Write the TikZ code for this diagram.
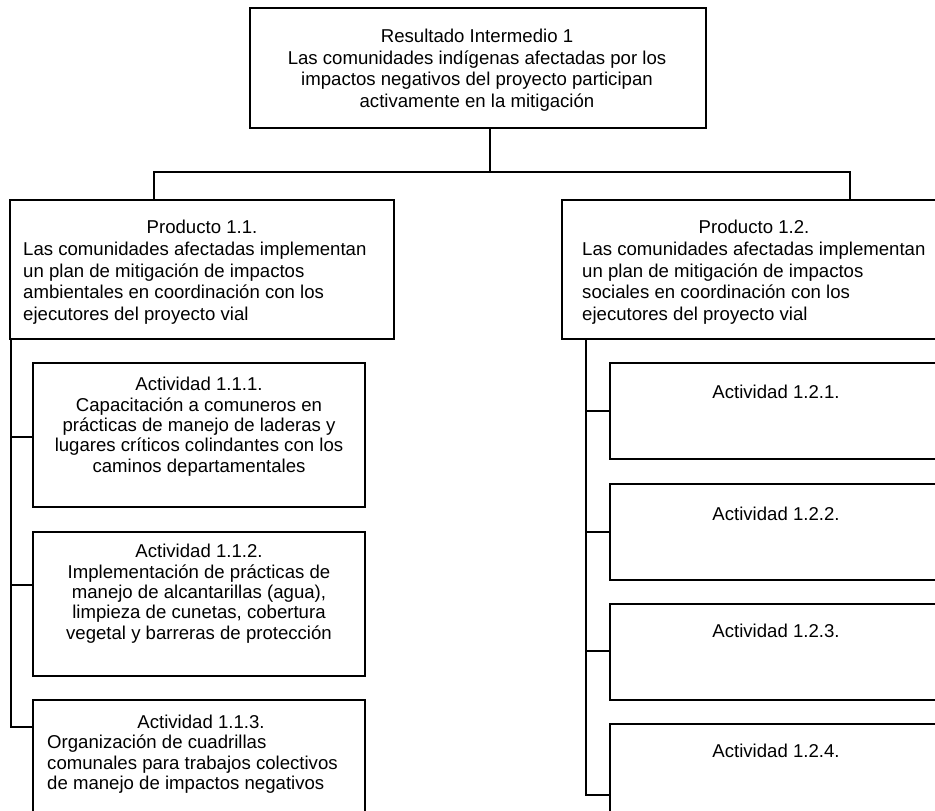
\documentclass[tikz,border=0pt]{standalone}
\usepackage{fontspec}
\setmainfont{Liberation Sans}
\newcommand\fontPrd{\fontsize{18.6}{21.6}\selectfont}
\newcommand\fontAct{\fontsize{18.6}{20.4}\selectfont}
\begin{document}
\begin{tikzpicture}[x=1pt,y=-1pt,
  box/.style={draw, line width=1.5pt, inner sep=0, rectangle},
  wire/.style={line width=1.5pt},
  txt/.style={inner sep=0, anchor=north, align=center, font=\fontPrd},
  txtl/.style={txt, anchor=north west, align=left},
  acttxt/.style={txt, font=\fontAct},
  acttxtl/.style={txtl, font=\fontAct}]
\useasboundingbox (0,0) rectangle (935,811);
\clip (0,0) rectangle (935,811);

% boxes
\node[box, minimum width=456pt, minimum height=120pt] (top) at (478,68) {};
\node[box, minimum width=384pt, minimum height=139pt] (p11) at (202,269.5) {};
\node[box, minimum width=384pt, minimum height=139pt] (p12) at (754,269.5) {};
\node[box, minimum width=332pt, minimum height=144pt] (a111) at (199,435) {};
\node[box, minimum width=332pt, minimum height=144pt] (a112) at (199,604) {};
\node[box, minimum width=332pt, minimum height=144pt] (a113) at (199,772) {};
\node[box, minimum width=332pt, minimum height=96pt] (a121) at (776,411) {};
\node[box, minimum width=332pt, minimum height=96pt] (a122) at (776,532) {};
\node[box, minimum width=332pt, minimum height=96pt] (a123) at (776,652) {};
\node[box, minimum width=332pt, minimum height=144pt] (a124) at (776,796) {};

% texts
\node[txt] (topT) at (477,29) {Resultado Intermedio 1\\Las comunidades indígenas afectadas por los\\impactos negativos del proyecto participan\\activamente en la mitigación};
\node[txt] (p11H) at (202,220) {Producto 1.1.};
\node[txtl] (p11B) at (23,242) {Las comunidades afectadas implementan\\un plan de mitigación de impactos\\ambientales en coordinación con los\\ejecutores del proyecto vial};
\node[txt] (p12H) at (754,220) {Producto 1.2.};
\node[txtl] (p12B) at (582,242) {Las comunidades afectadas implementan\\un plan de mitigación de impactos\\sociales en coordinación con los\\ejecutores del proyecto vial};
\node[acttxt] (a111T) at (199,377) {Actividad 1.1.1.\\Capacitación a comuneros en\\prácticas de manejo de laderas y\\lugares críticos colindantes con los\\caminos departamentales};
\node[acttxt] (a112T) at (199,544) {Actividad 1.1.2.\\Implementación de prácticas de\\manejo de alcantarillas (agua),\\limpieza de cunetas, cobertura\\vegetal y barreras de protección};
\node[acttxt] (a113H) at (201,715) {Actividad 1.1.3.};
\node[acttxtl] (a113B) at (47,735) {Organización de cuadrillas\\comunales para trabajos colectivos\\de manejo de impactos negativos};
\node[acttxt] (a121T) at (776,385) {Actividad 1.2.1.};
\node[acttxt] (a122T) at (776,507) {Actividad 1.2.2.};
\node[acttxt] (a123T) at (776,624) {Actividad 1.2.3.};
\node[acttxt] (a124T) at (776,744) {Actividad 1.2.4.};

% connector junctions
\coordinate (jT) at (490,172);
\coordinate (jL) at (154,172);
\coordinate (jR) at (850,172);
\coordinate (sL) at (11,339);
\coordinate (kL1) at (11,437);
\coordinate (kL2) at (11,585);
\coordinate (kL3) at (11,727);
\coordinate (sR) at (586,339);
\coordinate (kR1) at (586,411);
\coordinate (kR2) at (586,532);
\coordinate (kR3) at (586,651);
\coordinate (kR4) at (586,795);

% result to products
\draw[wire] (jT |- top.south) -- (jT);
\draw[wire] (jL |- p11.north) -- (jL) -- (jR) -- (jR |- p12.north);

% product 1.1 to its activities
\draw[wire] (sL) -- (kL3) -- (kL3 -| a113.west);
\draw[wire] (kL1) -- (kL1 -| a111.west);
\draw[wire] (kL2) -- (kL2 -| a112.west);

% product 1.2 to its activities
\draw[wire] (sR) -- (kR4) -- (kR4 -| a124.west);
\draw[wire] (kR1) -- (kR1 -| a121.west);
\draw[wire] (kR2) -- (kR2 -| a122.west);
\draw[wire] (kR3) -- (kR3 -| a123.west);
\end{tikzpicture}
\end{document}
